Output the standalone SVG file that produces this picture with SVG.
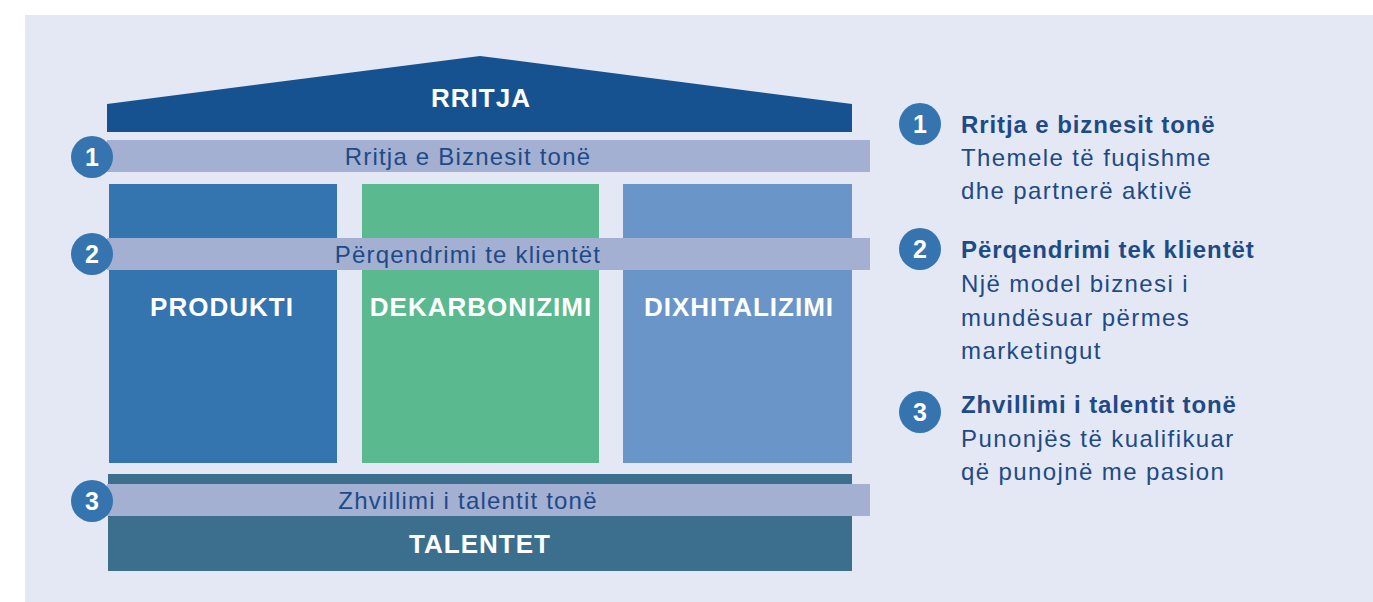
<svg xmlns="http://www.w3.org/2000/svg" width="1373" height="602" viewBox="0 0 1373 602">
<style>
.lbl{font-family:"Liberation Sans",Arial,sans-serif;font-weight:bold;fill:#ffffff;text-anchor:middle;font-size:26px;letter-spacing:1px}
.band{fill:#A3B0D2}
.bandtxt{font-family:"Liberation Sans",Arial,sans-serif;fill:#1E4A86;text-anchor:middle;font-size:24px;letter-spacing:1.2px}
.num{fill:#3574AE}
.numtxt{font-family:"Liberation Sans",Arial,sans-serif;font-weight:bold;fill:#ffffff;text-anchor:middle;font-size:25px}
.ttl{font-family:"Liberation Sans",Arial,sans-serif;font-weight:bold;fill:#1E4A86;font-size:24px;letter-spacing:0.9px}
.desc{font-family:"Liberation Sans",Arial,sans-serif;fill:#1E4A86;font-size:24px;letter-spacing:1.4px}
</style>
<rect x="0" y="0" width="1373" height="602" fill="#ffffff"/>
<rect x="25" y="15" width="1348" height="587" fill="#E4E8F4"/>
<g id="roof">
<polygon points="107,104 480,56 852,104 852,132 107,132" fill="#175290"/>
<text class="lbl" x="481" y="107">RRITJA</text>
</g>
<g id="produkti">
<rect x="109" y="184" width="228" height="279" fill="#3474AF"/>
<text class="lbl" x="222" y="316">PRODUKTI</text>
</g>
<g id="dekarbonizimi">
<rect x="362" y="184" width="237" height="279" fill="#5BB98F"/>
<text class="lbl" x="481" y="316">DEKARBONIZIMI</text>
</g>
<g id="dixhitalizimi">
<rect x="623" y="184" width="229" height="279" fill="#6A95C9"/>
<text class="lbl" x="739" y="316">DIXHITALIZIMI</text>
</g>
<g id="talentet">
<rect x="108" y="474" width="744" height="97" fill="#3C6F8D"/>
<text class="lbl" x="480" y="553">TALENTET</text>
</g>
<g id="band1">
<rect class="band" x="107" y="140" width="763" height="32"/>
<text class="bandtxt" x="468" y="165">Rritja e Biznesit tonë</text>
<circle class="num" cx="92" cy="157" r="21"/>
<text class="numtxt" x="92" y="166">1</text>
</g>
<g id="band2">
<rect class="band" x="107" y="238" width="763" height="32"/>
<text class="bandtxt" x="468" y="263">Përqendrimi te klientët</text>
<circle class="num" cx="92" cy="254" r="21"/>
<text class="numtxt" x="92" y="263">2</text>
</g>
<g id="band3">
<rect class="band" x="107" y="484" width="763" height="32"/>
<text class="bandtxt" x="468" y="509">Zhvillimi i talentit tonë</text>
<circle class="num" cx="92" cy="501" r="21"/>
<text class="numtxt" x="92" y="510">3</text>
</g>
<g id="legend1">
<circle class="num" cx="920" cy="124" r="21"/>
<text class="numtxt" x="920" y="133">1</text>
<text class="ttl" x="961" y="133">Rritja e biznesit tonë</text>
<text class="desc" x="961" y="166">Themele të fuqishme</text>
<text class="desc" x="961" y="199">dhe partnerë aktivë</text>
</g>
<g id="legend2">
<circle class="num" cx="920" cy="249" r="21"/>
<text class="numtxt" x="920" y="258">2</text>
<text class="ttl" x="961" y="258">Përqendrimi tek klientët</text>
<text class="desc" x="961" y="292">Një model biznesi i</text>
<text class="desc" x="961" y="326">mundësuar përmes</text>
<text class="desc" x="961" y="359">marketingut</text>
</g>
<g id="legend3">
<circle class="num" cx="920" cy="412" r="21"/>
<text class="numtxt" x="920" y="421">3</text>
<text class="ttl" x="961" y="413">Zhvillimi i talentit tonë</text>
<text class="desc" x="961" y="447">Punonjës të kualifikuar</text>
<text class="desc" x="961" y="480">që punojnë me pasion</text>
</g>
</svg>
